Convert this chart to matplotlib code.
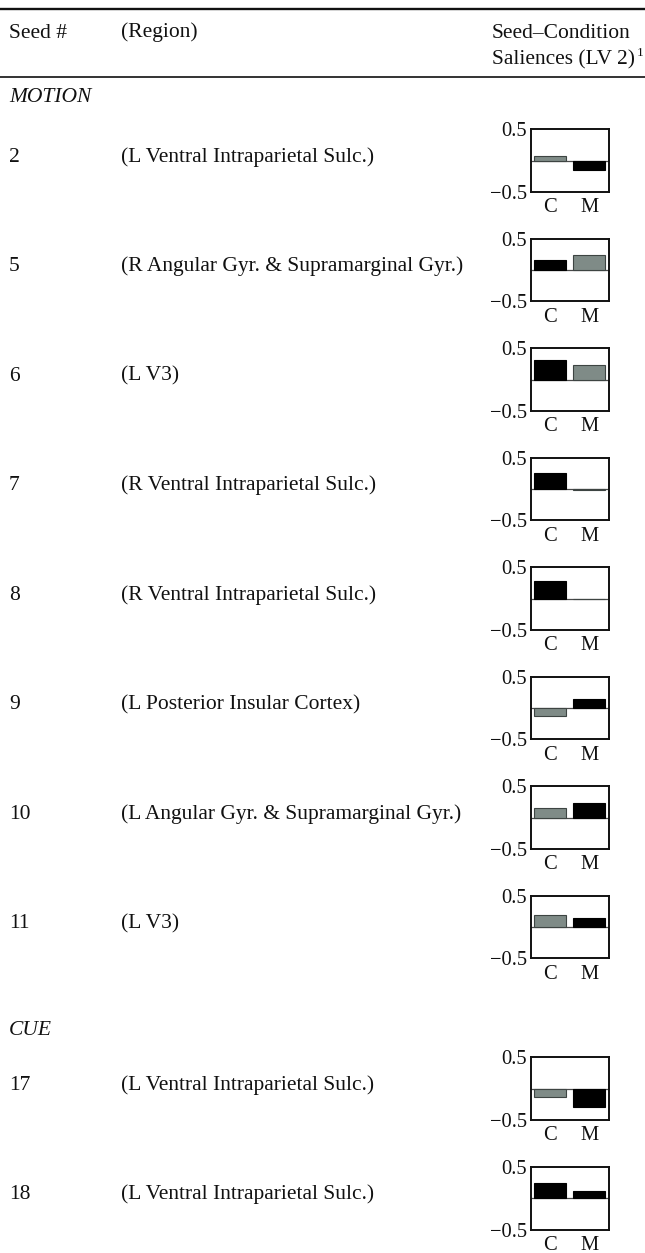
import matplotlib
matplotlib.use("Agg")
import matplotlib.pyplot as plt
from matplotlib.lines import Line2D

# ---------------- data ----------------
seeds = ["2", "5", "6", "7", "8", "9", "10", "11", "17", "18"]
regions = [
    "(L Ventral Intraparietal Sulc.)",
    "(R Angular Gyr. & Supramarginal Gyr.)",
    "(L V3)",
    "(R Ventral Intraparietal Sulc.)",
    "(R Ventral Intraparietal Sulc.)",
    "(L Posterior Insular Cortex)",
    "(L Angular Gyr. & Supramarginal Gyr.)",
    "(L V3)",
    "(L Ventral Intraparietal Sulc.)",
    "(L Ventral Intraparietal Sulc.)",
]
groups = ["MOTION"] * 8 + ["CUE"] * 2
conditions = ["C", "M"]
sal_C = [0.075, 0.17, 0.32, 0.26, 0.28, -0.13, 0.15, 0.19, -0.13, 0.25]
sal_M = [-0.15, 0.25, 0.24, -0.012, 0.0, 0.15, 0.23, 0.15, -0.30, 0.12]
# True = black (filled) bar, False = grey bar
reliable_C = [False, True, True, True, True, False, False, False, False, True]
reliable_M = [True, False, False, False, False, True, True, True, True, True]
ytick_vals = [-0.5, 0.5]
ytick_labels = ["\u22120.5", "0.5"]

# ---------------- style ----------------
W, H = 645, 1253
SERIF = ["Liberation Serif", "DejaVu Serif"]
plt.rcParams["font.family"] = SERIF
GREY = "#7f8b87"
TXT = "#111111"
FS = 15.5
TFS = 14.8

fig = plt.figure(figsize=(W / 100, H / 100), dpi=100)


def fx(x):
    return x / W


def fy(y):
    return 1 - y / H


def rule(y, lw):
    fig.add_artist(Line2D([0, 1], [fy(y), fy(y)], transform=fig.transFigure,
                          color="#111111", lw=lw))


def txt(x, y, s, size=FS, **kw):
    return fig.text(fx(x), fy(y), s, fontsize=size, color=TXT, va="baseline",
                    ha="left", **kw)


# header
rule(9, 1.7)
rule(77, 1.2)
txt(9, 37.5, "Seed #")
txt(121, 37.5, "(Region)")
txt(492, 37.5, "Seed\u2013Condition")
txt(492, 64, "Saliences (LV 2)", size=15.4)
txt(636.5, 55.5, "1", size=9.5)

# rows
centers = [160.7 + 109.5 * i for i in range(8)] + [1088.7, 1198.3]
group_label_y = {"MOTION": 101.7, "CUE": 1035}
for g, yy in group_label_y.items():
    txt(9, yy, g, style="italic")

box_left, box_w, box_h = 531, 78, 62.5
for i, (s, r) in enumerate(zip(seeds, regions)):
    cy = centers[i]
    txt(9, cy + 1, s)
    txt(121, cy + 1, r)

    ax = fig.add_axes([fx(box_left), fy(cy + box_h / 2), box_w / W, box_h / H])
    vals = [sal_C[i], sal_M[i]]
    rel = [reliable_C[i], reliable_M[i]]
    fcs = ["black" if b else GREY for b in rel]
    ecs = ["black" if b else "#3d4442" for b in rel]
    ax.axhline(0, color="#4a4a4a", lw=0.9, zorder=1)
    ax.bar([0, 1], vals, width=0.82, color=fcs, edgecolor=ecs, linewidth=0.8,
           zorder=2)
    ax.set_xlim(-0.49, 1.51)
    ax.set_ylim(-0.5, 0.5)
    ax.set_yticks(ytick_vals)
    ax.set_yticklabels(ytick_labels)
    ax.set_xticks([0, 1])
    ax.set_xticklabels(conditions)
    ax.tick_params(axis="y", length=0, pad=3, labelsize=TFS, labelcolor=TXT)
    ax.tick_params(axis="x", length=0, pad=4.5, labelsize=TFS, labelcolor=TXT)
    for sp in ax.spines.values():
        sp.set_linewidth(1.4)
        sp.set_color("#111111")

fig.savefig("out.png", dpi=100)
